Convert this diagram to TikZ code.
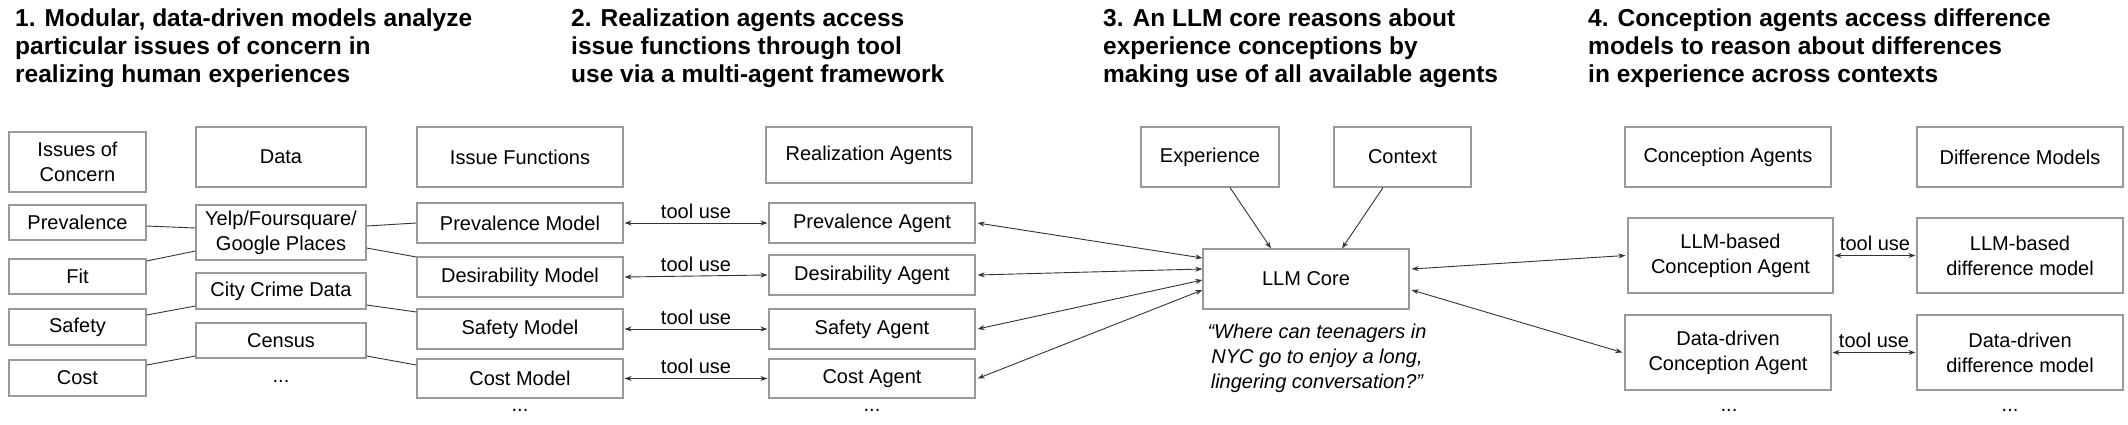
\documentclass[tikz,border=0pt]{standalone}
\usepackage{fontspec}
\setmainfont{Liberation Sans}
\usetikzlibrary{arrows.meta}
\begin{document}
\begin{tikzpicture}[x=1pt,y=-1pt,
  box/.style={draw=black!40,line width=1.2pt,inner sep=0pt,align=center,font=\fontsize{20}{25}\selectfont},
  ttl/.style={anchor=north west,align=left,inner sep=0pt,font=\fontsize{24.5}{28}\selectfont\bfseries},
  ln/.style={draw=black!80,line width=0.9pt},
  arr/.style={ln,{Stealth[length=7pt,width=5pt]}-{Stealth[length=7pt,width=5pt]}},
  one/.style={ln,-{Stealth[length=7pt,width=5pt]}},
  lbl/.style={font=\fontsize{20}{24}\selectfont,inner sep=0pt},
  dots/.style={font=\fontsize{20}{24}\selectfont,inner sep=0pt}]
\useasboundingbox (0,0) rectangle (2128,424);
\newcommand{\bx}[6]{\node[box,minimum width=#4pt,minimum height=#5pt] (#1) at (#2,#3) {#6};}
\node[ttl] (t1) at (15,9) {1. Modular, data-driven models analyze\\particular issues of concern in\\realizing human experiences};
\node[ttl] (t2) at (571,9) {2. Realization agents access\\issue functions through tool\\use via a multi-agent framework};
\node[ttl] (t3) at (1103,9) {3. An LLM core reasons about\\experience conceptions by\\making use of all available agents};
\node[ttl] (t4) at (1588,9) {4. Conception agents access difference\\models to reason about differences\\in experience across contexts};
\bx{issues}{77.5}{162}{137}{60}{Issues of\\Concern}
\bx{data}{281}{157}{170}{60}{Data}
\bx{ifun}{520}{157}{206}{60}{Issue Functions}
\bx{ragents}{869}{155}{206}{56}{Realization Agents}
\bx{exp}{1210}{157}{138}{60}{Experience}
\bx{ctx}{1402.5}{157}{137}{60}{Context}
\bx{cagents}{1728}{157}{206}{60}{Conception Agents}
\bx{dmodels}{2020}{157}{206}{60}{Difference Models}
\bx{prev}{77.5}{222.5}{137}{35}{Prevalence}
\bx{fit}{77.5}{276.5}{137}{35}{Fit}
\bx{safety}{77.5}{327}{137}{36}{Safety}
\bx{cost}{77.5}{378}{137}{36}{Cost}
\bx{yelp}{281}{232.5}{170}{55}{Yelp/Foursquare/\\Google Places}
\bx{city}{281}{291}{170}{36}{City Crime Data}
\bx{census}{281}{340.5}{170}{35}{Census}
\bx{pm}{520}{223}{206}{40}{Prevalence Model}
\bx{dm}{520}{277}{206}{40}{Desirability Model}
\bx{sm}{520}{329}{206}{40}{Safety Model}
\bx{cm}{520}{378.5}{206}{39}{Cost Model}
\bx{pa}{872}{223}{206}{40}{Prevalence Agent}
\bx{da}{872}{275}{206}{40}{Desirability Agent}
\bx{sa}{872}{329}{206}{40}{Safety Agent}
\bx{ca}{872}{378.5}{206}{39}{Cost Agent}
\bx{core}{1306}{279}{206}{60}{LLM Core}
\bx{lc}{1730.5}{255.5}{205}{75}{LLM-based\\Conception Agent}
\bx{ld}{2020}{255.5}{206}{75}{LLM-based\\difference model}
\bx{dc}{1728}{352.5}{206}{75}{Data-driven\\Conception Agent}
\bx{dd}{2020}{352.5}{206}{75}{Data-driven\\difference model}
% data links
\draw[ln] ([yshift=-3.5pt]prev.east) -- ([yshift=4.5pt]yelp.west);
\draw[ln] ([yshift=15.5pt]fit.east) -- ([yshift=-18.5pt]yelp.west);
\draw[ln] ([yshift=6.5pt]yelp.east) -- (pm.west);
\draw[ln] ([yshift=-15.5pt]yelp.east) -- ([yshift=20pt]dm.west);
\draw[ln] ([yshift=12pt]safety.east) -- ([yshift=-15pt]city.west);
\draw[ln] ([yshift=-14pt]city.east) -- ([yshift=17pt]sm.west);
\draw[ln] ([yshift=13pt]cost.east) -- ([yshift=-15.5pt]census.west);
\draw[ln] ([yshift=-15.5pt]census.east) -- ([yshift=13.5pt]cm.west);
% tool use
\foreach \a/\b in {pm/pa,dm/da,sm/sa,cm/ca}{
  \draw[arr] ([xshift=1pt]\a.east) -- node[lbl,above=4pt] {tool use} ([xshift=-1pt]\b.west);}
% agents to core
\draw[arr] ([xshift=2pt]pa.east) -- ([yshift=21pt]core.west);
\draw[arr] ([xshift=2pt]da.east) -- ([yshift=10pt]core.west);
\draw[arr] ([xshift=2pt]sa.east) -- ([yshift=-1pt]core.west);
\draw[arr] ([xshift=2pt]ca.east) -- ([yshift=-11pt]core.west);
\draw[one] ([xshift=20pt]exp.south) -- ([xshift=-35pt]core.north);
\draw[one] ([xshift=-19.5pt]ctx.south) -- ([xshift=36pt]core.north);
\draw[arr] ([xshift=2pt,yshift=10pt]core.east) -- ([xshift=-2pt]lc.west);
\draw[arr] ([xshift=2pt,yshift=-11pt]core.east) -- ([xshift=-2pt]dc.west);
\draw[arr] ([xshift=1pt]lc.east) -- node[lbl,above=4pt] {tool use} ([xshift=-1pt]ld.west);
\draw[arr] ([xshift=1pt]dc.east) -- node[lbl,above=4pt] {tool use} ([xshift=-1pt]dd.west);
\node[lbl,font=\fontsize{20}{25}\selectfont\itshape,align=center] (q) at (1317,358) {“Where can teenagers in\\NYC go to enjoy a long,\\lingering conversation?”};
\node[dots] (d1) at (281,381) {...};
\node[dots] (d2) at (520,410) {...};
\node[dots] (d3) at (872,410) {...};
\node[dots] (d4) at (1729,410) {...};
\node[dots] (d5) at (2010,410) {...};
\end{tikzpicture}
\end{document}
